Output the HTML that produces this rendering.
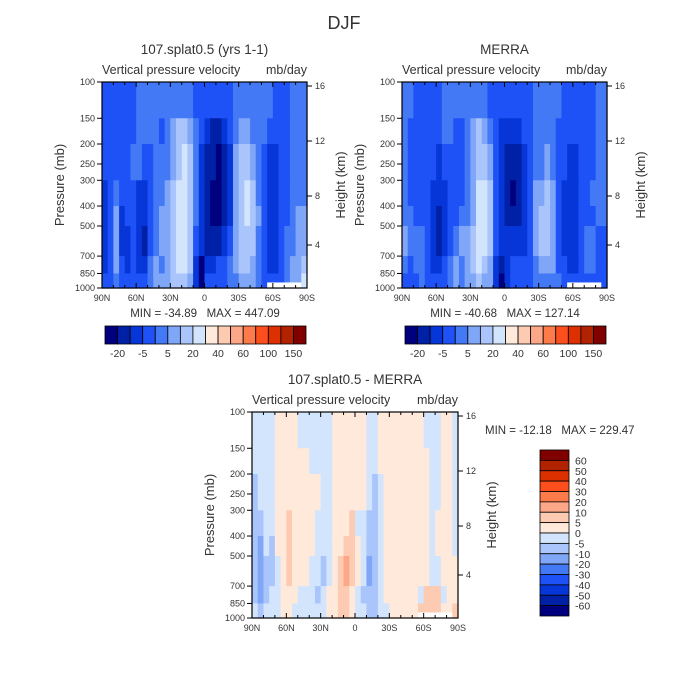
<!DOCTYPE html>
<html><head><meta charset="utf-8">
<style>
body{margin:0;background:#fff;}
svg{display:block;font-family:"Liberation Sans",sans-serif;}
text{fill:#333;white-space:pre;}
</style></head>
<body>
<svg id="fig" width="700" height="700" viewBox="0 0 700 700" xmlns="http://www.w3.org/2000/svg"></svg>
<script>
// ---------- data ----------
const lats = [90,85,80,75,70,65,60,55,50,45,40,35,30,25,20,15,10,5,0,-5,-10,-15,-20,-25,-30,-35,-40,-45,-50,-55,-60,-65,-70,-75,-80,-85,-90];
const presLayers = [100,150,200,300,400,500,700,850,1000];
const pressTicks = [100,150,200,250,300,400,500,700,850,1000];
const heightTicks = [16,12,8,4];
const heightTickOffsets = [4,59,114,163];
const latTicks = ["90N","60N","30N","0","30S","60S","90S"];
const topLevels = [-20,-10,-5,0,5,10,20,30,40,50,60,80,100,120,150];
const topLabels = ["-20","-5","5","20","40","60","100","150"];
const diffLevels = [-60,-50,-40,-30,-20,-10,-5,0,5,10,20,30,40,50,60];
const diffLabels = ["60","50","40","30","20","10","5","0","-5","-10","-20","-30","-40","-50","-60"];
const palette = ["#00007e","#0020a6","#0636d8","#1e52f6","#4479f6","#80a6f8","#a9c5fb","#d3e5fd","#fee9da","#fdcab2","#fca787","#fd7a4a","#fd4f1e","#dc3000","#b02200","#800000"];

const tlL0=[-3,-3,-3,-3,-3,-3,2,2,2,2,2,2,2,2,2,2,-3,-3,-3,-3,-3,-3,-3,2,2,2,2,2,2,2,-3,-3,-3,2,2,2];
const tlL1=[-3,-3,-3,-3,-3,-3,2,2,2,2,-3,2,7,15,15,7,2,-3,-7,-15,-15,-7,-3,2,7,7,2,2,2,-3,-3,-3,-3,2,2,2];
const tlL2=[-3,-3,-3,-3,-3,2,2,-3,-3,2,2,2,7,15,25,15,2,-7,-15,-15,-25,-15,-7,7,15,15,7,2,-3,-7,-7,-3,-3,2,2,2];
const tlL3=[-7,-3,2,-3,-3,-3,-7,-7,-3,2,2,7,15,25,25,15,2,-7,-15,-25,-25,-15,-7,7,15,25,15,2,-3,-7,-7,-3,-3,2,2,2];
const tlL4=[-7,-3,7,-7,-3,-3,-7,-7,-3,2,7,7,15,25,25,15,2,-7,-15,-25,-25,-15,-7,7,15,25,15,7,-3,-7,-7,-3,-3,2,7,7];
const tlL5=[-7,-3,7,-7,-7,-3,-7,-15,-3,2,7,7,15,25,25,15,-3,-7,-15,-15,-15,-7,-3,7,15,15,15,2,-3,-7,-7,-3,2,2,7,7];
const tlL6=[-7,-3,7,-3,-7,-3,-7,-7,2,7,2,7,15,25,25,15,-7,-25,-7,-7,-3,-3,2,7,15,15,7,2,-3,-7,-7,-3,2,7,7,15];
const tlL7=[-3,-3,2,-3,-3,-3,-3,-3,2,7,7,7,15,15,15,7,-7,-25,-3,-3,-3,-3,2,2,7,7,7,2,-3,-3,-3,-3,2,7,7,25];

const trL0=[2,2,-3,-3,-3,-3,-3,2,2,2,2,2,2,2,2,-3,-3,-3,-3,-3,-3,-3,-3,2,2,2,2,2,-3,-3,-3,-3,-3,-3,2,2];
const trL1=[2,-3,-3,-3,-3,-3,-3,2,2,-3,-3,2,7,15,7,2,-3,-7,-7,-7,-7,-3,-3,2,2,2,2,-3,-3,-3,-3,-3,-3,-3,2,2];
const trL2=[2,-3,-3,-3,-3,-3,-7,-3,-3,-3,-3,2,7,15,15,7,-3,-7,-15,-15,-15,-7,-3,2,2,7,2,-3,-3,-7,-7,-3,-3,-3,2,2];
const trL3=[2,-3,-3,-3,-3,-7,-7,-7,-3,-3,-3,2,7,25,25,15,-3,-7,-15,-25,-15,-7,-3,7,7,15,7,-3,-7,-7,-7,-3,-3,2,2,2];
const trL4=[2,2,-3,-3,-3,-7,-15,-7,-3,-3,2,2,7,25,25,15,-3,-7,-15,-15,-15,-7,-3,7,15,15,7,-3,-7,-7,-7,-3,-3,-3,2,2];
const trL5=[7,2,2,2,-3,-7,-15,-7,-3,2,7,7,15,25,25,15,-3,-7,-7,-7,-7,-7,-3,7,15,15,7,-3,-7,-7,-7,-3,2,2,-3,-3];
const trL6=[2,-3,2,2,-3,-7,-7,-3,2,7,2,7,15,25,15,7,-7,-15,-7,-3,-3,-3,-3,2,7,7,7,-3,-3,-7,-7,-3,2,2,-3,-3];
const trL7=[-3,-3,-3,2,-3,-3,-3,-3,2,7,2,7,7,15,7,7,-7,-25,-7,-3,-3,-3,-3,2,2,2,2,2,-3,-3,-3,-3,-3,-3,-3,-3];

const dfL0=[-2,-2,-2,-2,2,2,2,2,-2,-2,-2,-2,-2,-2,2,2,2,2,2,2,-2,-2,2,2,2,2,2,2,2,2,-2,-2,-2,2,2,-2];
const dfL1=[-2,-2,-2,-2,2,2,2,2,2,2,-2,-2,-2,-2,2,2,2,2,2,2,-2,-2,2,2,2,2,2,2,2,2,2,-2,-2,2,2,-2];
const dfL2=[-7,-2,-2,-2,2,2,2,2,2,2,2,2,-2,-2,2,2,2,2,2,2,-2,-7,-2,2,2,2,2,2,2,2,2,-2,-2,2,2,-2];
const dfL3=[-7,-7,-2,-2,2,2,7,2,2,2,2,-2,-2,-2,2,2,2,7,-2,-2,-7,-7,-2,2,2,2,2,2,2,2,2,-2,2,2,2,-2];
const dfL4=[-7,-15,-2,-7,2,2,7,2,2,2,2,-2,-2,-2,2,2,7,7,2,-2,-7,-7,-2,2,2,2,2,2,2,2,2,-2,2,2,2,-2];
const dfL5=[-7,-15,-7,-7,-2,2,7,2,2,2,-2,-2,-7,-2,2,7,15,7,2,-2,-15,-7,-2,2,2,2,2,2,2,2,2,-2,-2,2,2,2];
const dfL6=[-7,-15,-7,-2,-2,2,2,2,-2,-2,-2,-7,-2,2,2,7,7,2,-2,-7,-7,-7,-2,2,2,2,2,2,2,-2,7,7,7,-2,2,2];
const dfL7=[-2,-7,-2,-2,-2,2,2,-2,-2,-2,-2,-2,-2,2,2,7,7,2,-2,-2,-7,-7,-2,-2,2,2,2,2,2,7,7,7,7,2,2,7];

const tlRows=[tlL0,tlL1,tlL2,tlL3,tlL4,tlL5,tlL6,tlL7];
const trRows=[trL0,trL1,trL2,trL3,trL4,trL5,trL6,trL7];
const dfRows=[dfL0,dfL1,dfL2,dfL3,dfL4,dfL5,dfL6,dfL7];

// ---------- drawing ----------
const NS="http://www.w3.org/2000/svg";
const svg=document.getElementById('fig');
function mk(tag,attrs,parent){const e=document.createElementNS(NS,tag);for(const k in attrs)e.setAttribute(k,attrs[k]);(parent||svg).appendChild(e);return e;}
function txt(s,attrs,parent){const t=mk('text',attrs,parent);t.textContent=s;return t;}
function colorFor(v,levels){let i=0;while(i<levels.length&&v>=levels[i])i++;return palette[i];}

function panel(cfg){
  const {x0,y0,w,h,rows,levels,name}=cfg;
  const g=mk('g',{});
  
  
  const xs=lat=>x0+(90-lat)/180*w;
  const ys=p=>y0+(Math.log10(p)-2)*h;
  for(let r=0;r<rows.length;r++){
    for(let c=0;c<rows[r].length;c++){
      const xa=xs(lats[c]),xb=xs(lats[c+1]);
      const ya=ys(presLayers[r]),yb=ys(presLayers[r+1]);
      const cell=mk('rect',{x:xa,y:ya,width:xb-xa+0.6,height:yb-ya+0.6,fill:colorFor(rows[r][c],levels)},g);
      
      
    }
  }
  const m=mk('rect',{x:xs(-55),y:ys(940),width:xs(-85)-xs(-55),height:ys(1000)-ys(940),fill:'#fff'},g);
  
  
  mk('rect',{x:x0,y:y0,width:w,height:h,fill:'none',stroke:'#000','stroke-width':1.2},g);
  for(let lat=90;lat>=-90;lat-=10){
    const x=xs(lat),major=(lat%30===0);const L=major?5:3;
    mk('line',{x1:x,y1:y0+h,x2:x,y2:y0+h-L,stroke:'#000','stroke-width':1},g);
    mk('line',{x1:x,y1:y0,x2:x,y2:y0+L,stroke:'#000','stroke-width':1},g);
  }
  latTicks.forEach((s,i)=>{
    const t=txt(s,{x:xs(90-30*i),y:y0+h+13,'font-size':9,'text-anchor':'middle'},g);
    
    
  });
  pressTicks.forEach(p=>{
    const y=ys(p);
    mk('line',{x1:x0-5,y1:y,x2:x0,y2:y,stroke:'#000','stroke-width':1},g);
    const t=txt(String(p),{x:x0-7,y:y+3,'font-size':9,'text-anchor':'end'},g);
    
    
  });
  heightTicks.forEach((hk,i)=>{
    const y=y0+heightTickOffsets[i];
    mk('line',{x1:x0+w,y1:y,x2:x0+w+5,y2:y,stroke:'#000','stroke-width':1},g);
    const t=txt(String(hk),{x:x0+w+8,y:y+3,'font-size':9},g);
    
    
  });
  const yl=txt('Pressure (mb)',{x:0,y:0,'font-size':13,'text-anchor':'middle',transform:`translate(${x0-38},${y0+h/2}) rotate(-90)`},g);
  
  
  const yr=txt('Height (km)',{x:0,y:0,'font-size':13,'text-anchor':'middle',transform:`translate(${x0+w+38},${y0+h/2}) rotate(-90)`},g);
  
  
  const st=txt('Vertical pressure velocity',{x:x0,y:y0-8,'font-size':12.5},g);
  
  
  const un=txt('mb/day',{x:x0+w,y:y0-8,'font-size':12.5,'text-anchor':'end'},g);
  
  
  const tt=txt(cfg.title,{x:x0+w/2,y:y0-28,'font-size':13.5,'text-anchor':'middle'},g);
  
  
}

function hbar(x0,y0,w,h,name){
  const g=mk('g',{});
  
  
  const bw=w/16;
  for(let i=0;i<16;i++){
    const r=mk('rect',{x:x0+i*bw,y:y0,width:bw,height:h,fill:palette[i],stroke:'#000','stroke-width':0.8},g);
    
    
  }
  topLabels.forEach((s,i)=>{
    const t=txt(s,{x:x0+(2*i+1)*bw,y:y0+h+13,'font-size':10.5,'text-anchor':'middle'},g);
    
    
  });
}

const title=txt('DJF',{x:344,y:29,'font-size':18,'text-anchor':'middle',fill:'#444'});



panel({x0:102,y0:82,w:205,h:206,rows:tlRows,levels:topLevels,name:'model-panel',title:'107.splat0.5 (yrs 1-1)'});
panel({x0:402,y0:82,w:205,h:206,rows:trRows,levels:topLevels,name:'merra-panel',title:'MERRA'});
panel({x0:252,y0:412,w:206,h:206,rows:dfRows,levels:diffLevels,name:'difference-panel',title:'107.splat0.5 - MERRA'});

const mm1=txt('MIN = -34.89   MAX = 447.09',{x:205,y:317,'font-size':11.5,'text-anchor':'middle'});


const mm2=txt('MIN = -40.68   MAX = 127.14',{x:505,y:317,'font-size':11.5,'text-anchor':'middle'});


const mm3=txt('MIN = -12.18   MAX = 229.47',{x:485,y:434,'font-size':11.5});



hbar(105,326,201,18,'model-colorbar');
hbar(405,326,201,18,'merra-colorbar');

(function(){
  const g=mk('g',{});
  
  
  const x0=540,y0=450,w=29,h=166,bh=h/16;
  for(let i=0;i<16;i++){
    const r=mk('rect',{x:x0,y:y0+i*bh,width:w,height:bh,fill:palette[15-i],stroke:'#000','stroke-width':0.8},g);
    
    
  }
  diffLabels.forEach((s,i)=>{
    const t=txt(s,{x:x0+w+6,y:y0+(i+1)*bh+4,'font-size':10.5},g);
    
    
  });
})();
</script>
</body></html>
